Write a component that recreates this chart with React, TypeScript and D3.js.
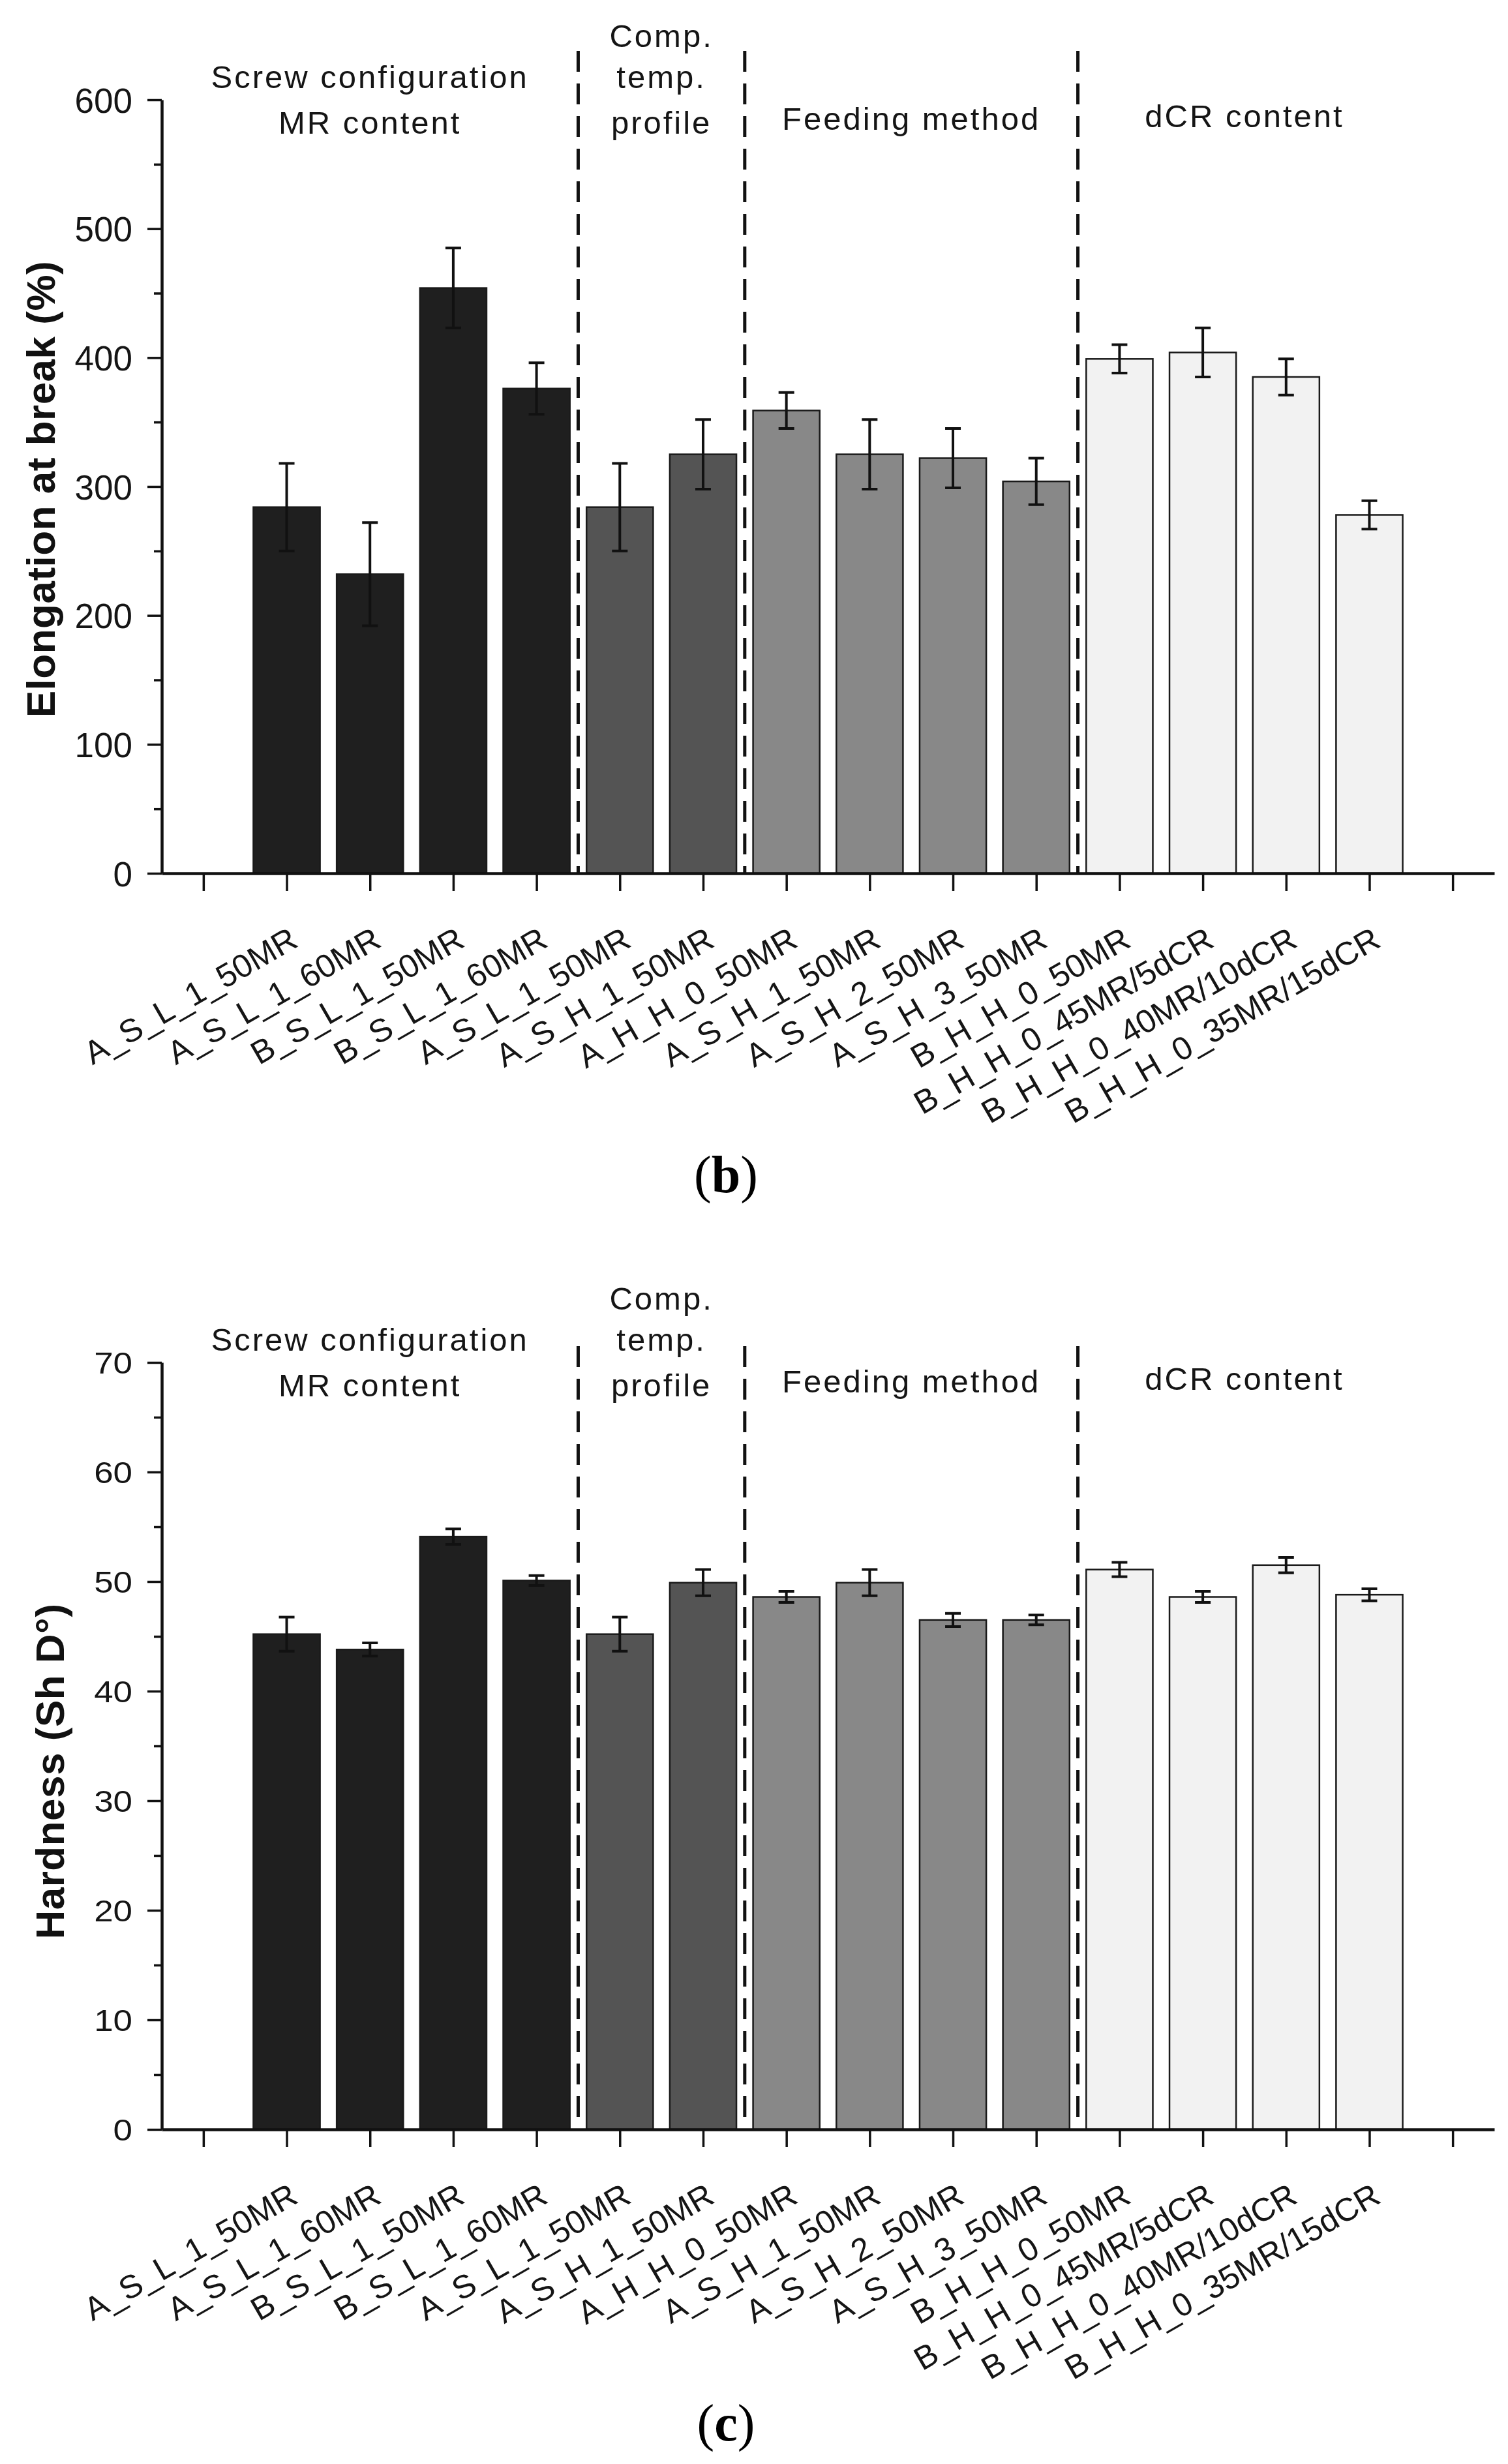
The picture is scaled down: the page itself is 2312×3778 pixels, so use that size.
import React, { useEffect, useRef } from 'react';
import * as d3 from 'd3';

// sample names, one bar each (positions 1..14 on the x axis)
const categories = [
  'A_S_L_1_50MR', 'A_S_L_1_60MR', 'B_S_L_1_50MR', 'B_S_L_1_60MR',
  'A_S_L_1_50MR', 'A_S_H_1_50MR',
  'A_H_H_0_50MR', 'A_S_H_1_50MR', 'A_S_H_2_50MR', 'A_S_H_3_50MR',
  'B_H_H_0_50MR', 'B_H_H_0_45MR/5dCR', 'B_H_H_0_40MR/10dCR', 'B_H_H_0_35MR/15dCR',
];
const groupIndex = [0, 0, 0, 0, 1, 1, 2, 2, 2, 2, 3, 3, 3, 3];
const groupFills = ['#1f1f1f', '#545454', '#888888', '#f2f2f2'];
const groupTitles = [
  ['Screw configuration', 'MR content'],
  ['Comp.', 'temp.', 'profile'],
  ['Feeding method'],
  ['dCR content'],
];
const groupCenters = [2, 5.5, 8.5, 12.5];
const separators = [4.5, 6.5, 10.5];

// (b) elongation at break, %
const elongation = [284, 232, 454, 376, 284, 325, 359, 325, 322, 304, 399, 404, 385, 278];
const elongationErr = [34, 40, 31, 20, 34, 27, 14, 27, 23, 18, 11, 19, 14, 11];
const elongationTicks = [0, 100, 200, 300, 400, 500, 600];
const elongationMinor = [50, 150, 250, 350, 450, 550];

// (c) hardness, Sh D
const hardness = [45.2, 43.8, 54.1, 50.1, 45.2, 49.9, 48.6, 49.9, 46.5, 46.5, 51.1, 48.6, 51.5, 48.8];
const hardnessErr = [1.55, 0.6, 0.7, 0.45, 1.55, 1.2, 0.5, 1.2, 0.6, 0.45, 0.65, 0.5, 0.7, 0.55];
const hardnessTicks = [0, 10, 20, 30, 40, 50, 60, 70];
const hardnessMinor = [5, 15, 25, 35, 45, 55, 65];

const SANS = '"Liberation Sans", Arial, Helvetica, sans-serif';
const SERIF = '"Liberation Serif", "Times New Roman", serif';

interface Panel {
  values: number[];
  errors: number[];
  ticks: number[];
  minor: number[];
  title: string;
  top: number;
  bottom: number;
  dashTop: number;
  tickFont: number;
  tickStretch: number;
  titleX: number;
  titleY: number;
  caption: string;
  captionY: number;
}

const panels: Panel[] = [
  {
    values: elongation, errors: elongationErr, ticks: elongationTicks, minor: elongationMinor,
    title: 'Elongation at break (%)', top: 153, bottom: 1339, dashTop: 78,
    tickFont: 53, tickStretch: 1, titleX: 84, titleY: 750, caption: 'b', captionY: 1828,
  },
  {
    values: hardness, errors: hardnessErr, ticks: hardnessTicks, minor: hardnessMinor,
    title: 'Hardness (Sh D°)', top: 2089, bottom: 3265, dashTop: 2064,
    tickFont: 46, tickStretch: 1.15, titleX: 98, titleY: 2716, caption: 'c', captionY: 3742,
  },
];

// vertical offsets (from plot top) of group title lines
const groupLineOffsets = [[-34, 36], [-97, -34, 36], [30], [26]];

function drawPanel(svg: d3.Selection<SVGSVGElement, unknown, null, undefined>, p: Panel) {
  const g = svg.append('g');
  const x = d3.scaleLinear().domain([-0.5, 15.5]).range([248, 2291]);
  const y = d3.scaleLinear().domain([0, d3.max(p.ticks) as number]).range([p.bottom, p.top]);
  const bw = (x(1) - x(0)) * 0.8;
  const idx = d3.range(categories.length);

  // bars
  g.append('g').selectAll('rect').data(idx).enter().append('rect')
    .attr('x', i => x(i + 1) - bw / 2)
    .attr('y', i => y(p.values[i]))
    .attr('width', bw)
    .attr('height', i => y(0) - y(p.values[i]))
    .attr('fill', i => groupFills[groupIndex[i]])
    .attr('stroke', '#1a1a1a')
    .attr('stroke-width', 2.5);

  // group separators
  g.append('g').selectAll('line').data(separators).enter().append('line')
    .attr('x1', d => x(d)).attr('x2', d => x(d))
    .attr('y1', p.dashTop).attr('y2', p.bottom)
    .attr('stroke', '#111').attr('stroke-width', 5)
    .attr('stroke-dasharray', '32 18');

  // error bars
  const eb = g.append('g').attr('stroke', '#111').attr('stroke-width', 4).attr('fill', 'none');
  eb.selectAll('path').data(idx).enter().append('path')
    .attr('d', i => {
      const cx = x(i + 1);
      const hi = y(p.values[i] + p.errors[i]);
      const lo = y(p.values[i] - p.errors[i]);
      return `M${cx},${lo}V${hi}M${cx - 12},${hi}H${cx + 12}M${cx - 12},${lo}H${cx + 12}`;
    });

  // group titles
  groupTitles.forEach((lines, gi) => {
    lines.forEach((t, li) => {
      g.append('text')
        .attr('x', x(groupCenters[gi]))
        .attr('y', p.top + groupLineOffsets[gi][li] + 16)
        .attr('text-anchor', 'middle')
        .attr('font-family', SANS)
        .attr('font-size', 49)
        .attr('letter-spacing', 3)
        .attr('fill', '#151515')
        .text(t);
    });
  });

  // y axis, major and minor
  const yAxis = g.append('g').attr('transform', `translate(${x(-0.5)},0)`)
    .call(d3.axisLeft(y).tickValues(p.ticks).tickSize(22).tickSizeOuter(0).tickFormat(d3.format('d')));
  yAxis.select('.domain').attr('stroke', '#111').attr('stroke-width', 4.5);
  yAxis.selectAll('.tick line').attr('stroke', '#111').attr('stroke-width', 3.5);
  yAxis.selectAll<SVGTextElement, number>('.tick text')
    .attr('x', 0)
    .attr('dy', '0.36em')
    .attr('transform', `translate(-45,0) scale(${p.tickStretch},1)`)
    .attr('font-family', SANS)
    .attr('font-size', p.tickFont)
    .attr('fill', '#151515');

  const yMinor = g.append('g').attr('transform', `translate(${x(-0.5)},0)`)
    .call(d3.axisLeft(y).tickValues(p.minor).tickSize(12).tickSizeOuter(0).tickFormat(() => ''));
  yMinor.select('.domain').remove();
  yMinor.selectAll('.tick line').attr('stroke', '#111').attr('stroke-width', 3.5);

  // x axis
  const xAxis = g.append('g').attr('transform', `translate(0,${p.bottom})`)
    .call(d3.axisBottom(x).tickValues(d3.range(0, 16)).tickSize(27).tickSizeOuter(0).tickFormat(() => ''));
  xAxis.select('.domain').attr('stroke', '#111').attr('stroke-width', 4.5);
  xAxis.selectAll('.tick line').attr('stroke', '#111').attr('stroke-width', 3.5);

  // rotated category labels
  g.append('g').selectAll('text').data(idx).enter().append('text')
    .attr('transform', i => `translate(${x(i + 1) + 20},${p.bottom + 111}) rotate(-30)`)
    .attr('text-anchor', 'end')
    .attr('font-family', SANS)
    .attr('font-size', 50)
    .attr('fill', '#151515')
    .text(i => categories[i]);

  // y title
  g.append('text')
    .attr('transform', `translate(${p.titleX},${p.titleY}) rotate(-90)`)
    .attr('text-anchor', 'middle')
    .attr('font-family', SANS)
    .attr('font-weight', 'bold')
    .attr('font-size', 62)
    .attr('letter-spacing', 0.5)
    .attr('fill', '#111')
    .text(p.title);

  // panel caption
  const cap = g.append('text')
    .attr('x', 1113).attr('y', p.captionY)
    .attr('text-anchor', 'middle')
    .attr('font-family', SERIF)
    .attr('font-size', 80)
    .attr('fill', '#000');
  cap.append('tspan').text('(');
  cap.append('tspan').attr('font-weight', 'bold').text(p.caption);
  cap.append('tspan').text(')');
}

export default function App() {
  const ref = useRef<SVGSVGElement>(null);

  useEffect(() => {
    if (!ref.current) return;
    const svg = d3.select(ref.current);
    svg.selectAll('*').remove();
    panels.forEach(p => drawPanel(svg, p));
  }, []);

  return (
    <svg
      ref={ref}
      width={2312}
      height={3778}
      style={{ position: 'absolute', left: 0, top: 0, background: '#fff', display: 'block' }}
    />
  );
}
